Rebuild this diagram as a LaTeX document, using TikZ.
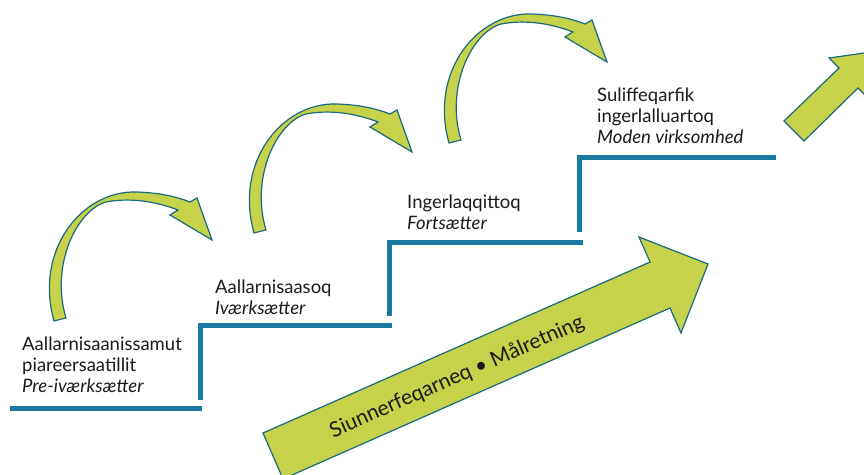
\documentclass[tikz,border=0pt]{standalone}
\usepackage{fontspec}
\setmainfont{Lato}
\usepackage{tikz}
\usetikzlibrary{calc}

\definecolor{stairblue}{RGB}{24,122,160}
\definecolor{arrowfill}{RGB}{198,210,74}
\definecolor{arrowline}{RGB}{28,104,128}
\definecolor{labelink}{RGB}{26,26,26}

\tikzset{
  stair/.style={line width=5pt,stairblue,line join=miter},
  greenarrow/.style={fill=arrowfill,draw=arrowline,line width=1.2pt,line join=miter},
  stagelabel/.style={anchor=north west,inner sep=0pt,align=left,text=labelink,
    font=\fontsize{18.5}{21}\selectfont}
}

% curved green arrow, tip given in picture coordinates
\newcommand{\bendarrow}[1]{%
  \begin{scope}[shift={#1}]
    \draw[greenarrow] (-158,81) .. controls (-178,10) and (-130,-50) .. (-75,-48)
      .. controls (-50,-47) and (-35,-43) .. (-22,-38)
      -- (-15,-42) -- (0,0) -- (-42,-25) -- (-34,-30)
      .. controls (-60,-40) and (-85,-42) .. (-106,-38)
      .. controls (-135,-30) and (-162,25) .. (-146,78) -- cycle;
  \end{scope}}

\begin{document}
\begin{tikzpicture}[x=1pt,y=-1pt]
	\useasboundingbox (0,0) rectangle (864,474);
	\clip (0,0) rectangle (864,474);
	% stairs
	\draw[stair] (10,408)--(202,408);
	\draw[stair] (200,400)--(200,325)--(392,325);
	\draw[stair] (389,316)--(389,242)--(583,242);
	\draw[stair] (579,232)--(579,157)--(776,157);
	% curved arrows
	\bendarrow{(212,240)}
	\bendarrow{(412,152)}
	\bendarrow{(607,62)}
	% big arrow
	\draw[greenarrow] (263,433)--(650,262)--(639,237)--(708,264)--(681,333)--(670,308)--(283,479)--cycle;
	\node[rotate=23.8,text=labelink,font=\fontsize{21}{24}\selectfont] (goal) at (457,377) {Siunnerfeqarneq • Målretning};
	% small arrow top right
	\draw[greenarrow] (784,121)--(839,68)--(829,58)--(878,51)--(868,98)--(858,88)--(804,141)--cycle;
	% stage labels
	\node[stagelabel] (pre) at (22,337) {Aallarnisaanissamut\\piareersaatillit\\\textit{Pre-iværksætter}};
	\node[stagelabel] (start) at (215,280) {Aallarnisaasoq\\\textit{Iværksætter}};
	\node[stagelabel] (cont) at (407,195) {Ingerlaqqittoq\\\textit{Fortsætter}};
	\node[stagelabel] (mature) at (597,88) {Suliffeqarfik\\ingerlalluartoq\\\textit{Moden virksomhed}};
\end{tikzpicture}
\end{document}
